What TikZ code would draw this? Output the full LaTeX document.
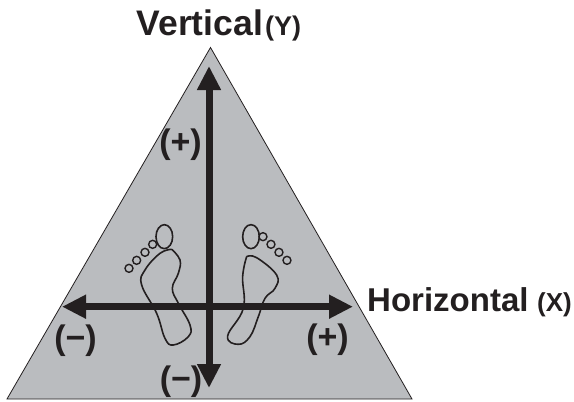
\documentclass[tikz,border=0pt]{standalone}
\usepackage{fontspec}
\setmainfont{Liberation Sans}
\usetikzlibrary{arrows.meta}
\definecolor{tri}{RGB}{186,188,191}
\definecolor{ink}{RGB}{35,31,32}
\tikzset{
  axis/.style={draw=ink,line width=7pt,{Triangle[width=22.5pt,length=24pt]}-{Triangle[width=22.5pt,length=24pt]}},
  bigv/.style={font=\bfseries\fontsize{35.5}{35.5}\selectfont,text=ink,inner sep=0pt,anchor=base west},
  bigh/.style={font=\bfseries\fontsize{33}{33}\selectfont,text=ink,inner sep=0pt,anchor=base west},
  smally/.style={font=\bfseries\fontsize{27}{27}\selectfont,text=ink,inner sep=0pt,anchor=base west},
  smallx/.style={font=\bfseries\fontsize{26}{26}\selectfont,text=ink,inner sep=0pt,anchor=base west},
  sign/.style={font=\bfseries\fontsize{34}{34}\selectfont,text=ink,inner sep=0pt,anchor=center},
  foot/.style={draw=ink,line width=1.6pt},
  toe/.style={draw=ink,line width=1.4pt}
}
\begin{document}
\begin{tikzpicture}[x=1pt,y=-1pt]
\useasboundingbox (0,0) rectangle (574,402);
\draw[fill=tri,draw=ink,line width=0.8pt] (210.5,47.5) -- (412,399) -- (7,399) -- cycle;
\begin{scope}[shift={(110,210)},x=0.3333pt,y=-0.3333pt]
\draw[foot,smooth,tension=0.7] plot coordinates {(185,118)(210,150)(205,190)(187,235)(205,280)(240,345)(235,380)(190,405)(165,385)(140,310)(95,225)(105,180)(150,130)(185,118)};
\draw[foot,smooth,tension=0.7] plot coordinates {(410,140)(440,143)(500,195)(495,235)(465,265)(445,320)(420,380)(385,403)(353,378)(400,295)(398,200)(410,140)};
\draw[foot] (163,80) ellipse [x radius=25,y radius=36];
\draw[foot] (423,80) ellipse [x radius=25,y radius=36];
\foreach \p in {(57,175),(80,151),(105,127),(128,103),(459,80),(483,103),(507,127),(531,151)}
  \draw[toe,fill=tri] \p circle (12);
\end{scope}
\coordinate (L) at (62,306.7);
\coordinate (R) at (353,306.7);
\coordinate (T) at (209,66);
\coordinate (B) at (209,388);
\draw[axis] (L) -- (R);
\draw[axis] (B) -- (T);
\node[bigv] (v) at (136.5,35.5) {Vertical};
\node[smally] (vy) at (265,35.5) {(Y)};
\node[bigh] (h) at (367,311.5) {Horizontal};
\node[smallx] (hx) at (537,311.5) {(X)};
\node[sign] (tp) at (180.5,145) {(+)};
\node[sign] (rp) at (327.5,340) {(+)};
\node[sign] (lm) at (75.5,341) {(−)};
\node[sign] (bm) at (181,382) {(−)};
\end{tikzpicture}
\end{document}
